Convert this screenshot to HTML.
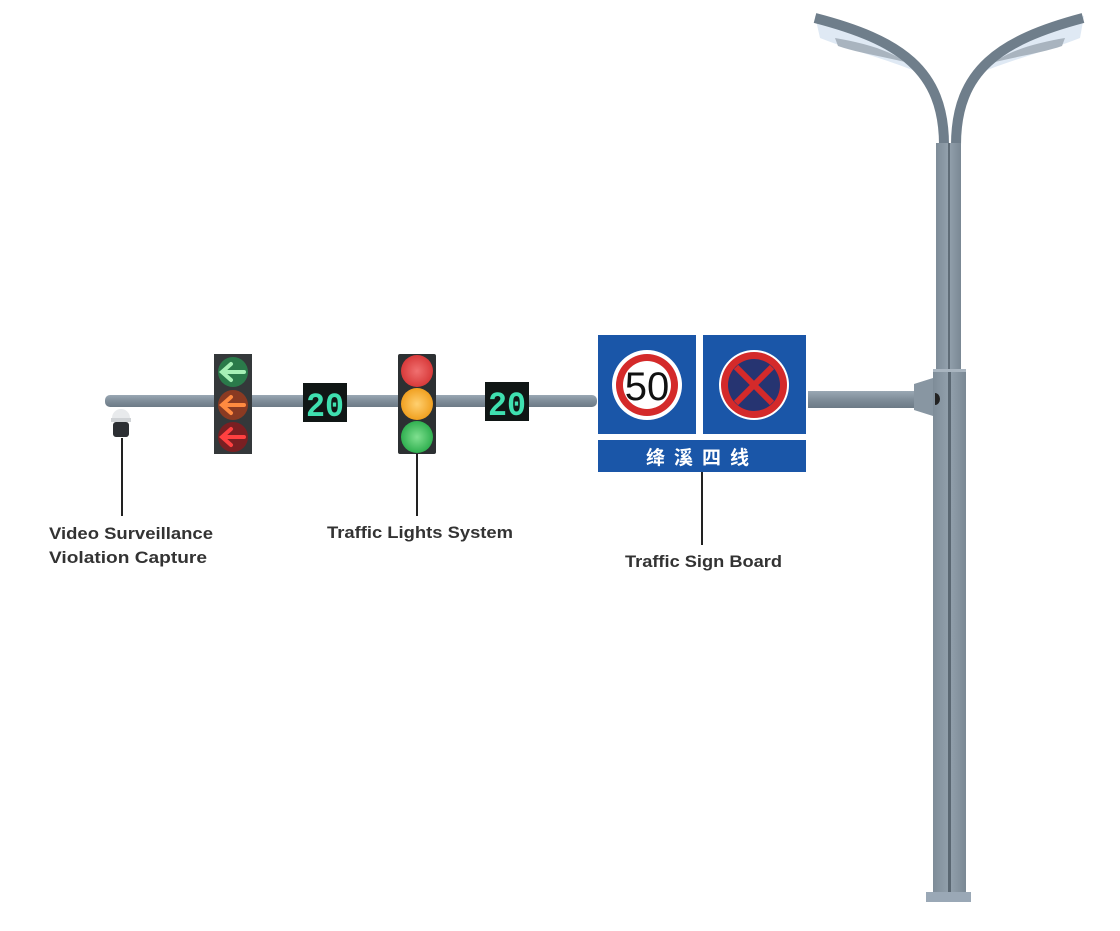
<!DOCTYPE html>
<html><head><meta charset="utf-8"><style>
html,body{margin:0;padding:0;background:#fff;width:1120px;height:931px;overflow:hidden}
svg{display:block}
</style></head><body>
<svg width="1120" height="931" viewBox="0 0 1120 931" xmlns="http://www.w3.org/2000/svg">
<defs>
<linearGradient id="pole" x1="0" x2="1"><stop offset="0" stop-color="#7e8c98"/><stop offset="0.5" stop-color="#93a1ad"/><stop offset="1" stop-color="#7a8894"/></linearGradient>
<linearGradient id="arm" x1="0" y1="0" x2="0" y2="1"><stop offset="0" stop-color="#9aa8b4"/><stop offset="0.5" stop-color="#7f8d99"/><stop offset="1" stop-color="#6c7a86"/></linearGradient>
<radialGradient id="red"><stop offset="0" stop-color="#f07070"/><stop offset="1" stop-color="#d83a3a"/></radialGradient>
<radialGradient id="yel"><stop offset="0" stop-color="#ffd070"/><stop offset="1" stop-color="#f0a020"/></radialGradient>
<radialGradient id="grn"><stop offset="0" stop-color="#80e090"/><stop offset="1" stop-color="#30b050"/></radialGradient>
</defs>

<!-- lamp arms -->
<path d="M815 16 C850 25 890 35 925 75 C890 60 850 50 820 38 Z" fill="#dfe9f4"/>
<path d="M1084 16 C1050 25 1010 35 975 75 C1010 60 1050 50 1080 38 Z" fill="#dfe9f4"/>
<path d="M835 38 C860 42 890 50 905 62 C880 56 855 52 838 46 Z" fill="#a9b4bf"/>
<path d="M1065 38 C1040 42 1010 50 995 62 C1020 56 1045 52 1062 46 Z" fill="#a9b4bf"/>
<path d="M944 145 C944 70 900 40 815 18" stroke="#6f7e8b" stroke-width="10" fill="none"/>
<path d="M956 145 C956 70 1000 40 1083 18" stroke="#6f7e8b" stroke-width="10" fill="none"/>

<!-- pole upper -->
<rect x="936" y="143" width="25" height="228" fill="url(#pole)"/>
<rect x="948" y="143" width="2" height="228" fill="#5f6c77"/>
<!-- pole lower -->
<rect x="933" y="369" width="33" height="524" fill="url(#pole)"/>
<rect x="948" y="369" width="3" height="524" fill="#5a6772"/>
<rect x="933" y="369" width="33" height="3" fill="#a9b5c0"/>
<rect x="926" y="892" width="45" height="10" fill="#9aa8b6"/>
<!-- right arm & bracket -->
<rect x="808" y="391" width="110" height="17" fill="url(#arm)"/>
<path d="M914 384 L933 378 L933 416 L914 410 Z" fill="#8896a2"/>
<path d="M935 393 a5 6 0 0 1 0 12 Z" fill="#222"/>

<!-- left arm -->
<rect x="105" y="395" width="492" height="12" rx="5" fill="url(#arm)"/>

<!-- camera -->
<path d="M112 418 a9 9 0 0 1 18 0 Z" fill="#e8eaec"/>
<rect x="111" y="418" width="20" height="4" fill="#d0d3d6"/>
<rect x="113" y="422" width="16" height="15" rx="3" fill="#2c2f33"/>
<line x1="122" y1="438" x2="122" y2="516" stroke="#222" stroke-width="2"/>

<!-- arrow signal -->
<rect x="214" y="354" width="38" height="100" fill="#34383a"/>
<circle cx="233" cy="372" r="15" fill="#2a7a4a"/>
<circle cx="233" cy="405" r="15" fill="#8a3a22"/>
<circle cx="233" cy="437" r="15" fill="#7a1f22"/>
<g stroke-width="4" fill="none" stroke-linecap="round">
<path d="M244 372 H224 M231 364 L222 372 L231 380" stroke="#a6f0b6"/>
<path d="M244 405 H224 M231 397 L222 405 L231 413" stroke="#ff8a40"/>
<path d="M244 437 H224 M231 429 L222 437 L231 445" stroke="#ff4040"/>
</g>

<!-- countdowns -->
<g font-family="Liberation Mono, monospace" font-weight="bold" fill="#3fe0b0">
<rect x="303" y="383" width="44" height="39" fill="#101615"/>
<text x="325" y="416" font-size="34" text-anchor="middle" textLength="38" lengthAdjust="spacingAndGlyphs">20</text>
<rect x="485" y="382" width="44" height="39" fill="#101615"/>
<text x="507" y="415" font-size="34" text-anchor="middle" textLength="38" lengthAdjust="spacingAndGlyphs">20</text>
</g>

<!-- traffic light -->
<rect x="398" y="354" width="38" height="100" rx="2" fill="#2c3032"/>
<circle cx="417" cy="371" r="16" fill="url(#red)"/>
<circle cx="417" cy="404" r="16" fill="url(#yel)"/>
<circle cx="417" cy="437" r="16" fill="url(#grn)"/>
<line x1="417" y1="454" x2="417" y2="516" stroke="#222" stroke-width="2"/>

<!-- sign board -->
<rect x="598" y="335" width="98" height="99" fill="#1a56a8"/>
<rect x="703" y="335" width="103" height="99" fill="#1a56a8"/>
<rect x="598" y="440" width="208" height="32" fill="#1a56a8"/>
<circle cx="647" cy="385" r="35" fill="#fff"/>
<circle cx="647" cy="385" r="31" fill="#d42a2a"/>
<circle cx="647" cy="385" r="24" fill="#fff"/>
<text x="647" y="400" font-family="Liberation Sans, sans-serif" font-size="40" text-anchor="middle" fill="#111">50</text>
<circle cx="754" cy="385" r="35" fill="#fff"/>
<circle cx="754" cy="385" r="33" fill="#d42a2a"/>
<circle cx="754" cy="385" r="26" fill="#263471"/>
<path d="M736 367 L772 403 M772 367 L736 403" stroke="#d42a2a" stroke-width="6"/>
<text x="702" y="464" font-family="Noto Sans CJK SC, sans-serif" font-weight="bold" font-size="19" text-anchor="middle" fill="#fff" letter-spacing="9">绛溪四线</text>
<line x1="702" y1="472" x2="702" y2="545" stroke="#222" stroke-width="2"/>

<!-- labels -->
<g font-family="Liberation Sans, sans-serif" font-weight="bold" font-size="17" fill="#333">
<text x="49" y="539" textLength="164" lengthAdjust="spacingAndGlyphs">Video Surveillance</text>
<text x="49" y="563" textLength="158" lengthAdjust="spacingAndGlyphs">Violation Capture</text>
<text x="327" y="538" textLength="186" lengthAdjust="spacingAndGlyphs">Traffic Lights System</text>
<text x="625" y="567" textLength="157" lengthAdjust="spacingAndGlyphs">Traffic Sign Board</text>
</g>
</svg>
</body></html>
